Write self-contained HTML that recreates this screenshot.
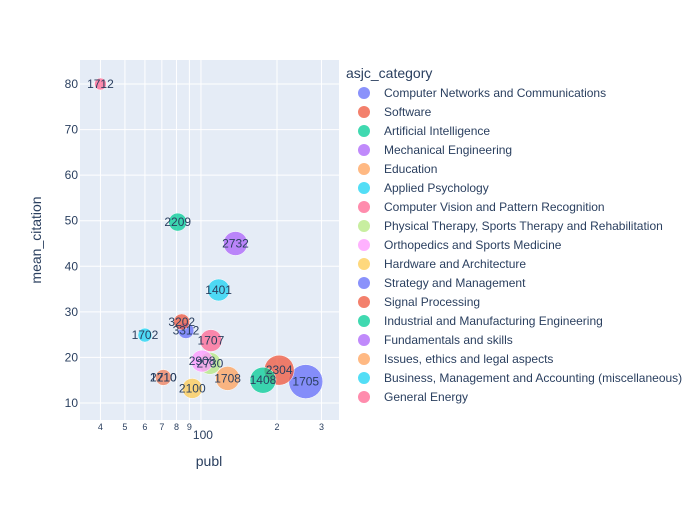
<!DOCTYPE html>
<html><head><meta charset="utf-8"><style>
body{margin:0;background:#fff;font-family:"Liberation Sans",Arial,sans-serif}
svg text{font-family:"Liberation Sans",Arial,sans-serif;fill:#2a3f5f}
</style></head><body>
<svg id="chart" width="700" height="500" xmlns="http://www.w3.org/2000/svg">
<rect width="700" height="500" fill="#fff"/>
<rect x="80" y="60" width="259" height="360" fill="#e5ecf6"/>
<g id="grid"></g><g id="marks"></g><g id="axes"></g><g id="legend"></g>
</svg>
<script>
const categories=["Computer Networks and Communications","Software","Artificial Intelligence","Mechanical Engineering","Education","Applied Psychology","Computer Vision and Pattern Recognition","Physical Therapy, Sports Therapy and Rehabilitation","Orthopedics and Sports Medicine","Hardware and Architecture","Strategy and Management","Signal Processing","Industrial and Manufacturing Engineering","Fundamentals and skills","Issues, ethics and legal aspects","Business, Management and Accounting (miscellaneous)","General Energy"];
const labels=["1705","2304","1408","2732","1708","1401","1707","2730","2908","2100","3312","3202","2209","1710","2210","1702","1712"];
const publ=[260,204,176,137,127.5,117.5,109.5,108.5,101,92.4,87.2,83.9,80.9,71,71,60,40];
const meanCitation=[14.7,17.2,15.0,45.0,15.4,34.8,23.7,18.7,19.2,13.2,25.9,27.8,49.7,15.6,15.6,24.9,80];
const sizes=[17,15,13,12,12,11,11,11,11,10,8,8,9,8,8,7,6];
const colors=["#636EFA","#EF553B","#00CC96","#AB63FA","#FFA15A","#19D3F3","#FF6692","#B6E880","#FF97FF","#FECB52","#636EFA","#EF553B","#00CC96","#AB63FA","#FFA15A","#19D3F3","#FF6692"];
const yTicks=[10,20,30,40,50,60,70,80];
const xTicks=[40,50,60,70,80,90,100,200,300];
const xTickLabels=["4","5","6","7","8","9","100","2","3"];

const NS="http://www.w3.org/2000/svg";
const X0=80,X1=339,Y0=60,Y1=420;
const xmin=Math.log10(33.2),xmax=Math.log10(352);
const ymin=6.27,ymax=85.27;
function sx(v){return X0+(Math.log10(v)-xmin)/(xmax-xmin)*(X1-X0);}
function sy(v){return Y1-(v-ymin)/(ymax-ymin)*(Y1-Y0);}
function mk(tag,attrs,parent,txt){const e=document.createElementNS(NS,tag);for(const k in attrs)e.setAttribute(k,attrs[k]);if(txt!==undefined)e.textContent=txt;parent.appendChild(e);return e;}
const grid=document.getElementById('grid'),marks=document.getElementById('marks'),axes=document.getElementById('axes'),legend=document.getElementById('legend');

xTicks.forEach((t,i)=>{const x=sx(t);
 const l=mk('line',{x1:x,x2:x,y1:Y0,y2:Y1,stroke:'#fff','stroke-width':1},grid);
 
 
 const big=t===100;
 const tx=mk('text',{x:x+(big?2:0),y:big?439:430,'text-anchor':'middle','font-size':big?12:9},axes,xTickLabels[i]);
 
 
});
yTicks.forEach(t=>{const y=sy(t);
 const l=mk('line',{x1:X0,x2:X1,y1:y,y2:y,stroke:'#fff','stroke-width':1},grid);
 
 
 const tx=mk('text',{x:78,y:y+4,'text-anchor':'end','font-size':12},axes,String(t));
 
 
});
let t=mk('text',{x:209,y:466,'text-anchor':'middle','font-size':14},axes,'publ');


t=mk('text',{x:41,y:240,'text-anchor':'middle','font-size':14,transform:'rotate(-90 41 240)'},axes,'mean_citation');



const order=publ.map((_,i)=>i);
order.forEach(i=>{
 const c=mk('circle',{cx:sx(publ[i]),cy:sy(meanCitation[i]),r:sizes[i],fill:colors[i],'fill-opacity':0.75,stroke:'#fff','stroke-width':0.5},marks);
 
 
});
order.forEach(i=>{
 const tx=mk('text',{x:sx(publ[i]),y:sy(meanCitation[i])+4,'text-anchor':'middle','font-size':12},marks,labels[i]);
 
 
});

t=mk('text',{x:346,y:78,'font-size':14},legend,'asjc_category');


categories.forEach((c,i)=>{const y=93+i*19;
 const g=mk('g',{},legend);
 
 
 mk('circle',{cx:364,cy:y,r:6,fill:colors[i],'fill-opacity':0.75},g);
 mk('text',{x:384,y:y+4,'font-size':12},g,c);
});
</script>
</body></html>
